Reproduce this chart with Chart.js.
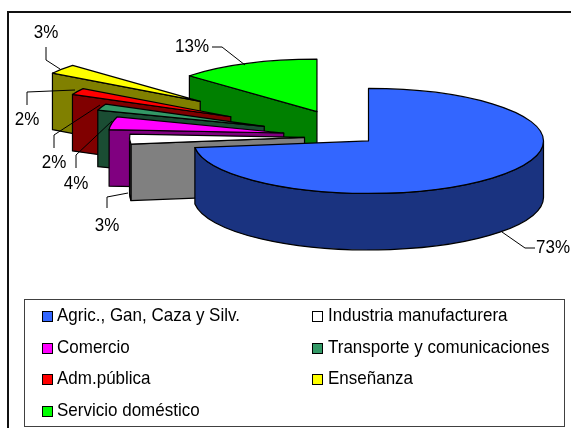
<!DOCTYPE html>
<html><head><meta charset="utf-8">
<style>html,body{margin:0;padding:0;background:#fff}canvas{display:block}</style>
<script src="https://cdn.jsdelivr.net/npm/chart.js@4"></script></head>
<body><div style="width:571px;height:428px"><canvas id="c" width="571" height="428"></canvas></div>
<script>
const categories=["Agric., Gan, Caza y Silv.","Industria manufacturera","Comercio","Transporte y comunicaciones","Adm.pública","Enseñanza","Servicio doméstico"];
const values=[73,3,4,2,2,3,13];
const colors=["#3366FF","#FFFFFF","#FF00FF","#339966","#FF0000","#FFFF00","#00FF00"];
const wallColors=["#1A3380","#808080","#800080","#1A4D33","#800000","#808000","#008000"];
const explosion=[20,49,71,96,140,194,92];
const labelAnchors=[[553,248],[107,226],[76,184],[54,163],[27,120],[46,33],[192,47]];
const leaders=[[[535,248],[525,248],[502,232]],[[107,208],[107,197],[128,193]],[[76,168],[76,155],[112,121]],[[54,148],[54,135],[100,105]],[[27,105],[27,92],[75,90]],[[46,47],[46,60],[60,69]],[[212,47],[222,47],[245,65]]];
const paintOrder=[6,5,4,3,2,1,0];
const SQUASH=0.3,DEPTH=56.5,FONT='17px "Liberation Sans"',TEXT_TALL=1.08;
const legendCols=[[42,57],[312,328]],legendRows=[316,348,379,411];

function tallText(x,s,px,py){x.save();x.translate(px,py);x.scale(1,TEXT_TALL);x.fillText(s,0,0);x.restore();}
const pie3d={id:'pie3d',
 beforeDraw(ch){const x=ch.ctx;x.save();
  x.fillStyle='#fff';x.fillRect(0,0,571,428);
  x.strokeStyle='#111';x.lineWidth=2;x.strokeRect(8,12,600,500);
  x.restore();},
 beforeDatasetDraw(ch){
  const ctx=ch.ctx,arcs=ch.getDatasetMeta(0).data;
  paintOrder.forEach(i=>{
   const a=arcs[i],r=a.outerRadius,e=explosion[i];
   const s=a.startAngle,t=a.endAngle,m=(s+t)/2;
   const cx=a.x+Math.cos(m)*e, cy=a.y+Math.sin(m)*e*SQUASH;
   const px=g=>cx+Math.cos(g)*r, py=g=>cy+Math.sin(g)*r*SQUASH;
   ctx.save();ctx.lineWidth=1.2;ctx.lineJoin='round';ctx.strokeStyle='#000';ctx.fillStyle=wallColors[i];
   const quad=(p,q)=>{ctx.beginPath();ctx.moveTo(p[0],p[1]);ctx.lineTo(q[0],q[1]);ctx.lineTo(q[0],q[1]+DEPTH);ctx.lineTo(p[0],p[1]+DEPTH);ctx.closePath();ctx.fill();ctx.stroke();};
   if(Math.sin(s+Math.PI/2)<-1e-6) quad([cx,cy],[px(s),py(s)]);
   if(Math.sin(t+Math.PI/2)>1e-6) quad([cx,cy],[px(t),py(t)]);
   const lo=Math.max(s,0),hi=Math.min(t,Math.PI);
   if(hi>lo){ctx.beginPath();ctx.ellipse(cx,cy,r,r*SQUASH,0,lo,hi);ctx.ellipse(cx,cy+DEPTH,r,r*SQUASH,0,hi,lo,true);ctx.closePath();ctx.fill();ctx.stroke();}
   ctx.save();ctx.translate(cx,cy);ctx.scale(1,SQUASH);ctx.translate(-a.x,-a.y);a.draw(ctx);ctx.restore();
   ctx.beginPath();ctx.moveTo(cx,cy);ctx.ellipse(cx,cy,r,r*SQUASH,0,s,t);ctx.closePath();ctx.stroke();
   ctx.restore();
  });
  return false;},
 afterDatasetsDraw(ch){const x=ch.ctx;x.save();
  x.font=FONT;x.fillStyle='#000';x.textAlign='center';x.textBaseline='middle';
  x.strokeStyle='#000';x.lineWidth=1;
  values.forEach((v,i)=>{tallText(x,v+'%',labelAnchors[i][0],labelAnchors[i][1]);
   x.beginPath();leaders[i].forEach((p,k)=>k?x.lineTo(p[0],p[1]):x.moveTo(p[0],p[1]));x.stroke();});
  x.strokeStyle='#404040';x.lineWidth=1;x.strokeRect(24.5,299.5,540,127);
  x.textAlign='left';
  categories.forEach((c,i)=>{const col=legendCols[i%2],y=legendRows[Math.floor(i/2)];
   x.fillStyle=colors[i];x.fillRect(col[0],y-5,10,10);
   x.strokeStyle='#000';x.strokeRect(col[0]+.5,y-4.5,10,10);
   x.fillStyle='#000';tallText(x,c,col[1],y);});
  x.restore();}
};
new Chart(document.getElementById('c'),{type:'pie',
 data:{labels:categories,datasets:[{data:values,backgroundColor:colors,borderWidth:0}]},
 options:{responsive:false,animation:false,radius:175,
  layout:{padding:{left:136,right:0,top:0,bottom:154}},
  plugins:{legend:{display:false},tooltip:{enabled:false},title:{display:false}}},
 plugins:[pie3d]});
</script></body></html>
